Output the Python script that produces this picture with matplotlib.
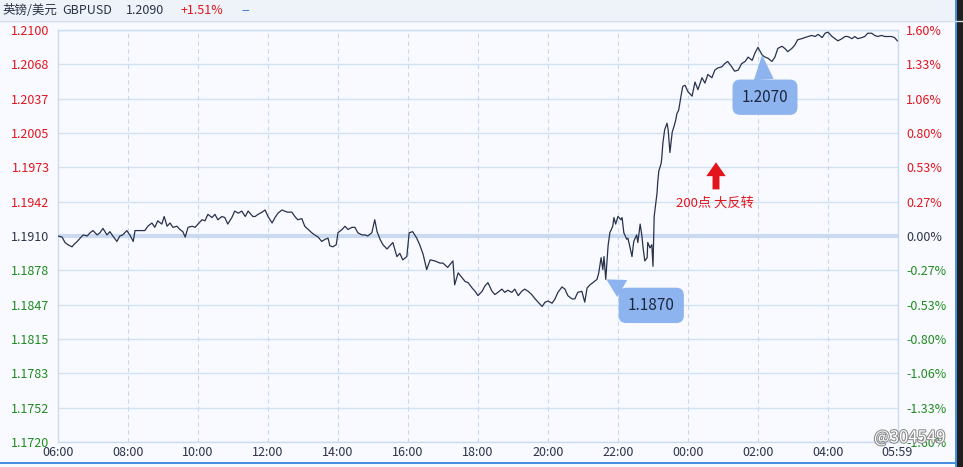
import matplotlib
matplotlib.use('Agg')
import matplotlib.pyplot as plt
import matplotlib.patheffects as pe
from matplotlib.patches import Rectangle
import numpy as np

plt.rcParams['font.family'] = ['Noto Sans CJK SC', 'DejaVu Sans']

# GBPUSD intraday, minutes since 06:00
times = [0, 7, 12, 17, 24, 27, 33, 38, 43, 50, 55, 60, 67, 72, 77, 84, 89, 94, 101, 106,
         111, 118, 123, 129, 132, 137, 149, 154, 161, 166, 171, 178, 182, 187, 192, 197, 204, 209, 214, 218,
         223, 230, 235, 240, 247, 252, 257, 264, 269, 274, 281, 286, 291, 298, 303, 309, 315, 321, 326, 334,
         338, 343, 350, 355, 360, 367, 372, 377, 384, 393, 401, 406, 411, 418, 423, 429, 435, 440, 446, 452,
         458, 463, 466, 471, 477, 480, 487, 492, 497, 504, 509, 514, 521, 526, 531, 538, 543, 547, 552, 557,
         564, 569, 574, 581, 586, 591, 598, 602, 608, 615, 620, 626, 632, 638, 646, 655, 660, 668,
         677, 680, 686, 692, 698, 703, 710, 715, 720, 727, 732, 737, 744, 749, 754, 761, 766, 771, 778, 783,
         789, 795, 800, 806, 812, 818, 823, 830, 835, 840, 847, 852, 857, 864, 869, 874, 881, 886, 891, 898,
         903, 907, 912, 917, 924, 927, 931, 934, 936, 939,
         943, 946, 951, 953, 956, 960, 965, 967, 970, 975, 977, 980, 984, 987, 992, 994, 998, 1001, 1003, 1006,
         1010, 1011, 1015, 1018, 1020, 1022, 1025, 1027, 1028, 1030, 1034, 1035, 1037, 1040, 1044, 1046, 1049,
         1053, 1056, 1059, 1061, 1064, 1068, 1071, 1075,
         1080, 1087, 1092, 1097, 1104, 1109, 1114, 1121, 1126, 1131, 1138, 1143, 1148, 1155, 1160, 1166, 1172,
         1178, 1183, 1190, 1195, 1200, 1207, 1212, 1217, 1224, 1229, 1234, 1241, 1246, 1251, 1258, 1263, 1268,
         1275, 1280, 1286, 1292, 1298, 1303, 1310, 1315, 1320, 1327, 1332, 1337, 1344, 1349, 1354, 1361, 1366,
         1371, 1378, 1383, 1388, 1395, 1400, 1405, 1412, 1417, 1422, 1429, 1434, 1439]
prices = [1.1910, 1.1909, 1.1904, 1.1902, 1.1900, 1.1902, 1.1905, 1.1908, 1.1911, 1.1910,
          1.1913, 1.1915, 1.1911, 1.1913, 1.1917, 1.1911, 1.1914, 1.1910, 1.1905, 1.1910,
          1.1911, 1.1915, 1.1911, 1.1905, 1.1915, 1.1915, 1.1915, 1.1919, 1.1922, 1.1918,
          1.1924, 1.1921, 1.1928, 1.1919, 1.1922, 1.1918, 1.1919, 1.1916, 1.1914, 1.1909,
          1.1918, 1.1919, 1.1918, 1.1921, 1.1925, 1.1924, 1.1930, 1.1927, 1.1930, 1.1925,
          1.1928, 1.1927, 1.1921, 1.1927, 1.1933, 1.1931, 1.1933, 1.1928, 1.1933, 1.1928,
          1.1928, 1.1930, 1.1932, 1.1934, 1.1928, 1.1922, 1.1927, 1.1931, 1.1934, 1.1932,
          1.1932, 1.1928, 1.1925, 1.1926, 1.1919, 1.1916, 1.1913, 1.1911, 1.1909, 1.1905,
          1.1907, 1.1908, 1.1901, 1.1900, 1.1902, 1.1913, 1.1916, 1.1919, 1.1916, 1.1918,
          1.1918, 1.1913, 1.1911, 1.1911, 1.1910, 1.1913, 1.1925, 1.1914, 1.1907, 1.1902,
          1.1898, 1.1901, 1.1904, 1.1891, 1.1894, 1.1888, 1.1891, 1.1913, 1.1914, 1.1908,
          1.1902, 1.1893, 1.1879, 1.1888, 1.1887, 1.1885, 1.1885, 1.1881,
          1.1887, 1.1865, 1.1876, 1.1872, 1.1868, 1.1867, 1.1862, 1.1859, 1.1855, 1.1859,
          1.1864, 1.1867, 1.1859, 1.1856, 1.1858, 1.1861, 1.1858, 1.1860, 1.1858, 1.1861,
          1.1855, 1.1859, 1.1861, 1.1859, 1.1856, 1.1852, 1.1849, 1.1845, 1.1849, 1.1850,
          1.1848, 1.1852, 1.1858, 1.1863, 1.1861, 1.1855, 1.1852, 1.1852, 1.1858, 1.1859,
          1.1849, 1.1862, 1.1865, 1.1867, 1.1870, 1.1876, 1.1890, 1.1879, 1.1891, 1.1870,
          1.1901, 1.1913, 1.1919, 1.1927, 1.1921, 1.1928, 1.1925, 1.1927, 1.1913, 1.1907,
          1.1908, 1.1901, 1.1891, 1.1905, 1.1911, 1.1904, 1.1921, 1.1910, 1.1899, 1.1887,
          1.1890, 1.1904, 1.1899, 1.1902, 1.1882, 1.1928, 1.1941, 1.1950, 1.1959, 1.1970,
          1.1977, 1.1982, 1.1996, 1.2008, 1.2014, 1.2008, 1.1987, 1.2006, 1.2011, 1.2017,
          1.2023, 1.2026, 1.2039, 1.2048, 1.2049,
          1.2043, 1.2039, 1.2052, 1.2045, 1.2056, 1.2051, 1.2059, 1.2056, 1.2063, 1.2065,
          1.2066, 1.2069, 1.2071, 1.2066, 1.2062, 1.2063, 1.2069, 1.2071, 1.2075, 1.2072,
          1.2079, 1.2084, 1.2077, 1.2075, 1.2074, 1.2071, 1.2075, 1.2083, 1.2085, 1.2083,
          1.2080, 1.2083, 1.2086, 1.2091, 1.2092, 1.2093, 1.2094, 1.2095, 1.2094, 1.2096,
          1.2093, 1.2097, 1.2098, 1.2094, 1.2092, 1.2090, 1.2092, 1.2094, 1.2094, 1.2092,
          1.2094, 1.2092, 1.2093, 1.2094, 1.2097, 1.2097, 1.2095, 1.2094, 1.2095, 1.2094,
          1.2094, 1.2094, 1.2093, 1.2090]

prev_close = 1.1910
price_labels = ['1.2100', '1.2068', '1.2037', '1.2005', '1.1973', '1.1942', '1.1910',
                '1.1878', '1.1847', '1.1815', '1.1783', '1.1752', '1.1720']
pct_labels = ['1.60%', '1.33%', '1.06%', '0.80%', '0.53%', '0.27%', '0.00%',
              '-0.27%', '-0.53%', '-0.80%', '-1.06%', '-1.33%', '-1.60%']
time_ticks = [0, 120, 240, 360, 480, 600, 720, 840, 960, 1080, 1200, 1320, 1439]
time_labels = ['06:00', '08:00', '10:00', '12:00', '14:00', '16:00', '18:00',
               '20:00', '22:00', '00:00', '02:00', '04:00', '05:59']

low_point = (940, 1.1870)
high_point = (1207, 1.2077)

RED = '#e3141c'
GREEN = '#1e8c1e'
DARK = '#2b3347'
BG = '#f8faff'
GRID = '#d3e1f3'
CALLOUT = '#8db4ee'

W, H = 963, 467
fig = plt.figure(figsize=(W / 100, H / 100), dpi=100, facecolor=BG)
ax = fig.add_axes([58 / W, (H - 442) / H, 840 / W, 412 / H])
ax.set_facecolor(BG)

y_lo, y_hi = float(price_labels[-1]), float(price_labels[0])
ax.set_xlim(0, 1440)
ax.set_ylim(y_lo, y_hi)
ytick_pos = np.linspace(y_hi, y_lo, len(price_labels))

for y in ytick_pos :
    ax.axhline(y, color=GRID, lw=1, zorder=1)
ax.axhline(prev_close, color='#cbdaf0', lw=3, zorder=1)
for t in time_ticks[1:-1] :
    ax.axvline(t, color='#c6d8ef', lw=0.8, ls=(0, (4, 3)), zorder=1)

ax.plot(times, prices, color='#28324a', lw=0.9, zorder=3)

for s in ax.spines.values() :
    s.set_color('#cbdbf0')
    s.set_linewidth(1)

def sign_color(lbl) :
    if lbl.startswith('-') :
        return GREEN
    if lbl in ('0.00%', '1.1910') :
        return DARK
    return RED

ax.set_yticks(ytick_pos)
ax.set_yticklabels(price_labels)
ax.set_xticks(time_ticks)
ax.set_xticklabels(time_labels)
ax.tick_params(axis='y', length=0, pad=6, labelsize=9)
ax.tick_params(axis='x', length=0, pad=3, labelsize=9, colors=DARK)
for i, tl in enumerate(ax.get_yticklabels()) :
    tl.set_color(sign_color(pct_labels[i]))

ax2 = ax.twinx()
ax2.set_ylim(y_lo, y_hi)
ax2.set_yticks(ytick_pos)
ax2.set_yticklabels(pct_labels)
ax2.tick_params(axis='y', length=0, pad=6, labelsize=9)
for s in ax2.spines.values() :
    s.set_visible(False)
for i, tl in enumerate(ax2.get_yticklabels()) :
    tl.set_color(sign_color(pct_labels[i]))

# callouts
box = dict(boxstyle='round,pad=0.6,rounding_size=0.5', fc=CALLOUT, ec='none')
tail = dict(arrowstyle='wedge,tail_width=1.3,shrink_factor=0.5', fc=CALLOUT, ec='none',
            shrinkA=0, shrinkB=0)
ax.annotate('1.1870', xy=low_point, xytext=(1017, 1.1846), textcoords='data',
            ha='center', va='center', fontsize=11, color='#1c2740', bbox=box, arrowprops=tail, zorder=5)
ax.annotate('1.2070', xy=high_point, xytext=(1212, 1.2038), textcoords='data',
            ha='center', va='center', fontsize=11, color='#1c2740', bbox=box, arrowprops=tail, zorder=5)

ax.annotate('', xy=(1128, 1.1978), xytext=(1128, 1.1953),
            arrowprops=dict(arrowstyle='simple,head_length=0.5,head_width=0.7,tail_width=0.25',
                            fc=RED, ec='none', mutation_scale=20, shrinkA=0, shrinkB=0), zorder=5)
ax.text(1126, 1.1940, '200点 大反转', color=RED, fontsize=9.5, ha='center', va='center', zorder=5)

# header bar
fig.patches.append(Rectangle((0, (H - 20) / H), 1, 20 / H, transform=fig.transFigure,
                             fc='#eef2f9', ec='none', zorder=0))
fig.lines.append(plt.Line2D([0, 1], [(H - 20.5) / H] * 2, transform=fig.transFigure, color='#d3dcea', lw=1))
hy = (H - 10.5) / H
fig.text(2 / W, hy, '英镑/美元', fontsize=9, color=DARK, va='center')
fig.text(62 / W, hy, 'GBPUSD', fontsize=9, color=DARK, va='center')
fig.text(126 / W, hy, '%.4f' % prices[-1], fontsize=9, color=DARK, va='center')
fig.text(181 / W, hy, '+1.51%', fontsize=9, color=RED, va='center')
fig.text(241 / W, hy, '--', fontsize=9, color='#3a6fd8', va='center')

# window edges
fig.patches.append(Rectangle((955 / W, 0), 2 / W, 1, transform=fig.transFigure, fc='#4a8ee0', ec='none'))
fig.patches.append(Rectangle((957 / W, 0), 6 / W, 1, transform=fig.transFigure, fc='#1f1f1f', ec='none'))
fig.patches.append(Rectangle((0, 3 / H), 955 / W, 2 / H, transform=fig.transFigure, fc='#4a8ee0', ec='none'))

fig.text(874 / W, (H - 438) / H, '@304549', fontsize=12, color='white', va='center',
         path_effects=[pe.withStroke(linewidth=1.5, foreground='#8a8a8a')])

plt.savefig('out.png', dpi=100, facecolor=BG)
